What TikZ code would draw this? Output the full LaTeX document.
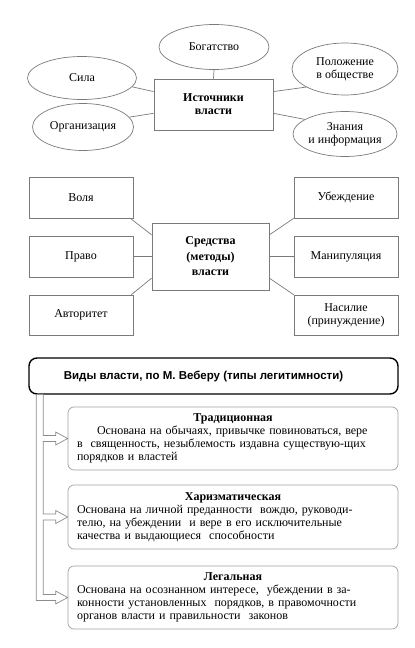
\documentclass[tikz,border=0pt]{standalone}
\usepackage{fontspec}
\setmainfont{Liberation Serif}
\newfontfamily\hdrfont{Liberation Sans}
\usetikzlibrary{shapes.geometric,calc}
\definecolor{edgegray}{HTML}{7A7A7A}
\definecolor{boxgray}{HTML}{A0A0A0}
\definecolor{arrgray}{HTML}{8C8C8C}
\newcommand{\typetitle}[1]{\hspace*{\fill}\textbf{#1}\hspace*{\fill}\null\\}
\begin{document}
\begin{tikzpicture}[x=1pt,y=-1pt,
  txt/.style={font=\fontsize{12}{13}\selectfont, align=center, inner sep=0pt},
  oval/.style={ellipse, draw=edgegray, line width=0.7pt, txt},
  rbox/.style={rectangle, draw=edgegray, line width=0.7pt, txt},
  hub/.style={rbox, font=\bfseries\fontsize{12}{13}\selectfont},
  link/.style={draw=edgegray, line width=0.7pt},
  hdrbox/.style={rectangle, rounded corners=8pt, draw=black, line width=1.4pt, fill=white,
    minimum width=369pt, minimum height=36pt, inner sep=0pt,
    font=\hdrfont\bfseries\fontsize{11.5}{13}\selectfont},
  typebox/.style={rectangle, rounded corners=6pt, draw=boxgray, line width=0.7pt,
    minimum width=330pt, text width=312pt, align=left, inner xsep=9pt, inner ysep=0pt,
    font=\fontsize{12}{13}\selectfont},
  arrowline/.style={draw=arrgray, line width=0.7pt, fill=white, line join=miter}
]
\useasboundingbox (0,0) rectangle (415,648);

% ---------- Sources of power ----------
\node[hub, minimum width=119pt, minimum height=51pt] (src) at (213.5,104.5) {Источники\\власти};
\node[oval, minimum width=110pt, minimum height=45pt] (bog) at (214,47) {Богатство};
\node[oval, minimum width=109pt, minimum height=43pt] (sila) at (82,78) {Сила};
\node[oval, minimum width=101pt, minimum height=47pt] (org) at (83,127) {Организация};
\node[oval, minimum width=106pt, minimum height=52pt] (pol) at (345,69) {Положение\\в обществе};
\node[oval, minimum width=104pt, minimum height=45pt] (zn) at (345,134) {Знания\\и информация};

\draw[link] (bog.south) -- (src.north);
\draw[link] (sila.-10) -- ($(src.north west)!0.25!(src.south west)$);
\draw[link] (org.12) -- ($(src.north west)!0.67!(src.south west)$);
\draw[link] (pol.205) -- ($(src.north east)!0.25!(src.south east)$);
\draw[link] (zn.160) -- ($(src.north east)!0.67!(src.south east)$);

% ---------- Means (methods) of power ----------
\node[hub, minimum width=117pt, minimum height=67pt, font=\bfseries\fontsize{12}{15.5}\selectfont] (sr) at (210.5,256.5) {Средства\\(методы)\\власти};
\node[rbox, minimum width=104pt, minimum height=41pt] (vol) at (81,197.5) {Воля};
\node[rbox, minimum width=104pt, minimum height=41pt] (prav) at (81,256.5) {Право};
\node[rbox, minimum width=104pt, minimum height=40pt] (avt) at (81,315) {Авторитет};
\node[rbox, minimum width=104pt, minimum height=41pt] (ub) at (346,197.5) {Убеждение};
\node[rbox, minimum width=104pt, minimum height=41pt] (man) at (346,256.5) {Манипуляция};
\node[rbox, minimum width=104pt, minimum height=40pt] (nas) at (346,315) {Насилие\\(принуждение)};

\draw[link] ($(vol.south east)+(-3,0)$) -- ($(sr.north west)!0.18!(sr.south west)$);
\draw[link] (prav.east) -- (sr.west);
\draw[link] ($(avt.north east)+(-2,0)$) -- ($(sr.north west)!0.82!(sr.south west)$);
\draw[link] (ub.south west) -- ($(sr.north east)!0.18!(sr.south east)$);
\draw[link] (man.west) -- (sr.east);
\draw[link] (nas.north west) -- ($(sr.north east)!0.82!(sr.south east)$);

% ---------- Types of power by Weber ----------
\node[typebox, minimum height=63pt] (trad) at (233,438.5)
  {\typetitle{Традиционная}\hspace*{20pt}Основана на обычаях, привычке повиноваться, вере\\
   в\ \ священность, незыблемость издавна существую-щих\\
   порядков и властей};
\node[typebox, minimum height=64pt] (har) at (233,517)
  {\typetitle{Харизматическая}Основана на личной преданности\ \ вождю, руководи-\\
   телю, на убеждении\ \ и вере в его исключительные\\
   качества и выдающиеся\ \ способности};
\node[typebox, minimum height=63pt] (leg) at (233,597.5)
  {\typetitle{Легальная}Основана на осознанном интересе,\ \ убеждении в за-\\
   конности установленных\ \ порядков, в правомочности\\
   органов власти и правильности\ \ законов};

\node[hdrbox] (hdr) at (213.5,376) {Виды власти, по М. Веберу (типы легитимности)\hspace*{20pt}};

\draw[arrowline] let \p0=(hdr.south west), \p1=(trad.west), \p2=(har.west), \p3=(leg.west) in
  (\x0+8pt,\y0) -- (\x0+8pt,\y3-3pt) -- (\x3-12pt,\y3-3pt) -- (\x3-12pt,\y3-6.5pt) -- (\x3,\y3)
  -- (\x3-12pt,\y3+6.5pt) -- (\x3-12pt,\y3+3pt) -- (\x0+15pt,\y3+3pt)
  -- (\x0+15pt,\y2-3pt) -- (\x2-12pt,\y2-3pt) -- (\x2-12pt,\y2-6.5pt) -- (\x2,\y2)
  -- (\x2-12pt,\y2+6.5pt) -- (\x2-12pt,\y2+3pt) -- (\x0+15pt,\y2+3pt)
  -- (\x0+15pt,\y1-3pt) -- (\x1-12pt,\y1-3pt) -- (\x1-12pt,\y1-6.5pt) -- (\x1,\y1)
  -- (\x1-12pt,\y1+6.5pt) -- (\x1-12pt,\y1+3pt) -- (\x0+15pt,\y1+3pt)
  -- (\x0+15pt,\y0);
\end{tikzpicture}
\end{document}
